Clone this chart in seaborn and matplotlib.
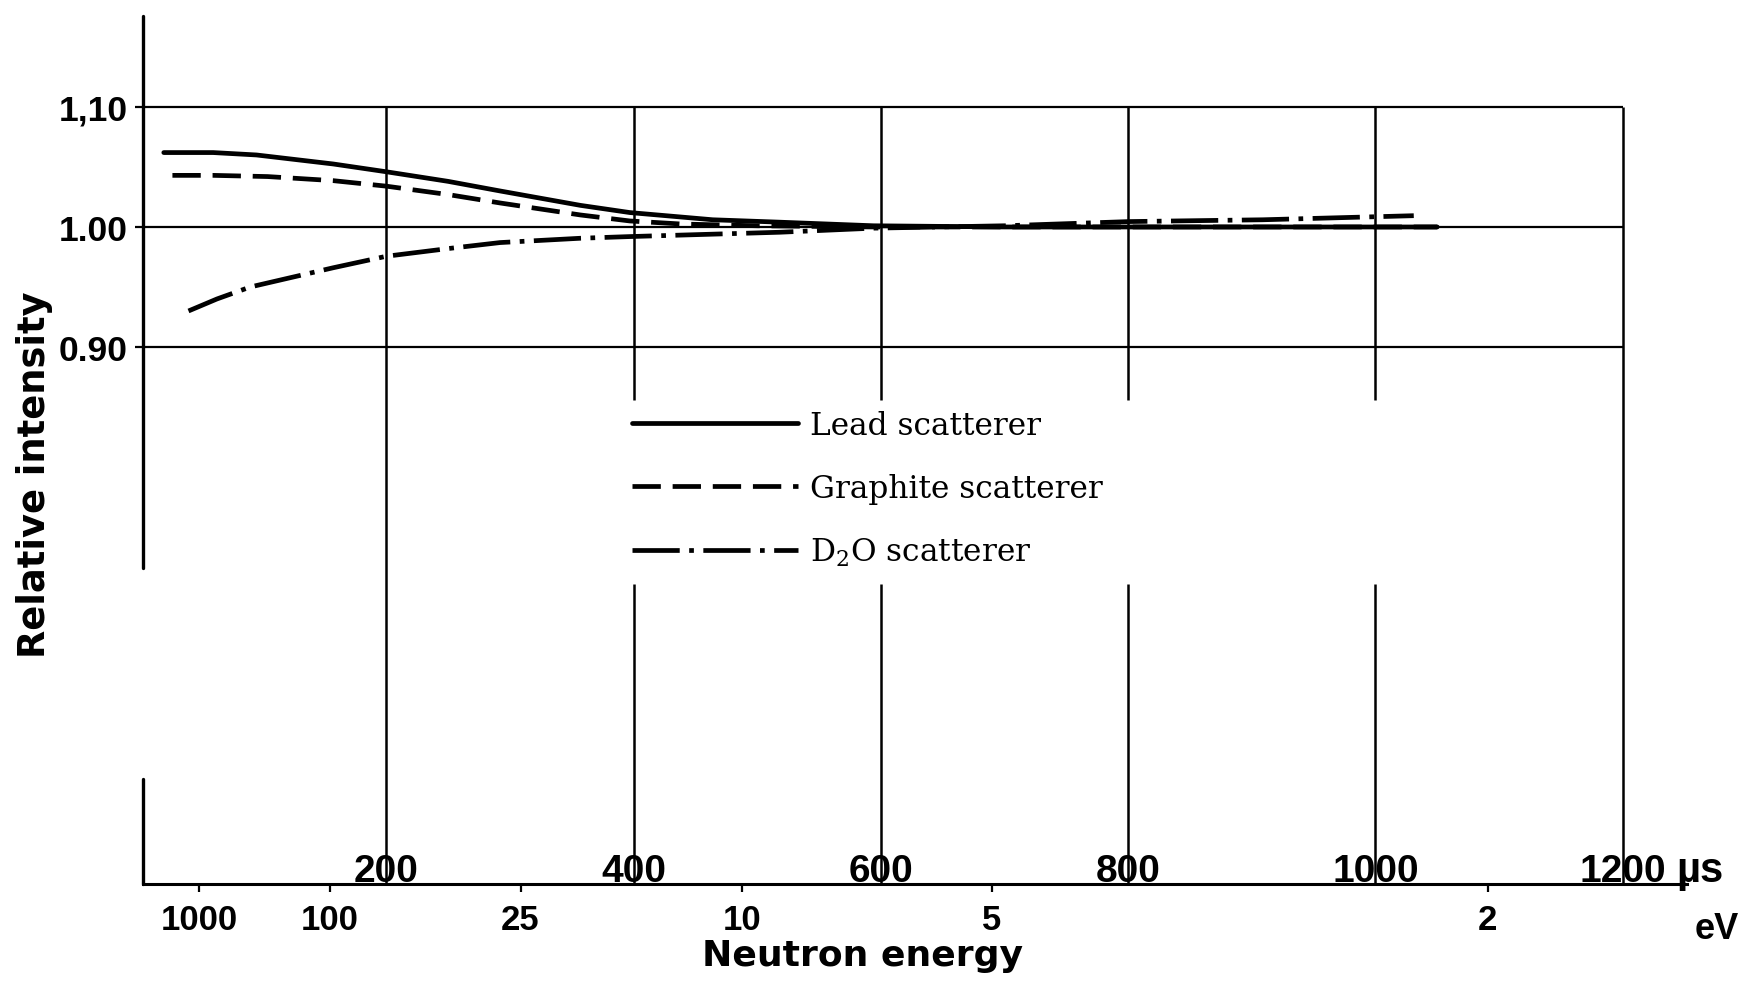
import matplotlib
matplotlib.use("Agg")
import matplotlib.pyplot as plt
import numpy as np
import pandas as pd
import seaborn as sns

# time of flight (us) and relative intensity
lead_tof = [20, 60, 95, 157, 200, 250, 292, 357, 397, 464, 518, 594, 700, 800, 900, 1050]
lead_rel = [1.062, 1.062, 1.060, 1.0525, 1.046, 1.038, 1.030, 1.018, 1.012, 1.006,
            1.004, 1.001, 1.000, 1.000, 1.000, 1.000]

graphite_tof = [27, 60, 104, 157, 200, 250, 292, 357, 397, 438, 500, 594, 700, 800, 900, 1050]
graphite_rel = [1.043, 1.043, 1.042, 1.0386, 1.034, 1.027, 1.020, 1.010, 1.005, 1.0025,
                1.001, 1.000, 1.000, 1.000, 1.000, 1.000]

d2o_tof = [40, 63, 90, 157, 200, 250, 292, 357, 397, 464, 518, 594, 700, 801, 909, 1031]
d2o_rel = [0.930, 0.940, 0.950, 0.966, 0.9756, 0.982, 0.987, 0.9906, 0.992, 0.994,
           0.9956, 0.999, 1.001, 1.0045, 1.006, 1.0094]

scatterers = ["Lead scatterer", "Graphite scatterer", "D$_2$O scatterer"]

tof_ticks = [200, 400, 600, 800, 1000, 1200]     # us, vertical grid
energy_ticks = [1000, 100, 25, 10, 5, 2]         # eV, lower scale
rel_ticks = [0.90, 1.00, 1.10]
rel_ticklabels = ["0.90", "1.00", "1,10"]

# E = K / t^2 for this flight path (fitted on the 10, 5 and 2 eV marks)
K_EV_US2 = 2.38e6

df = pd.concat([
    pd.DataFrame({"tof": lead_tof, "rel": lead_rel, "scatterer": scatterers[0]}),
    pd.DataFrame({"tof": graphite_tof, "rel": graphite_rel, "scatterer": scatterers[1]}),
    pd.DataFrame({"tof": d2o_tof, "rel": d2o_rel, "scatterer": scatterers[2]}),
], ignore_index=True)

sns.set_theme(style="ticks", rc={"axes.edgecolor": "black", "xtick.color": "black",
                                 "ytick.color": "black", "text.color": "black",
                                 "axes.labelcolor": "black"})
plt.rcParams["font.family"] = ["DejaVu Sans"]
plt.rcParams["mathtext.fontset"] = "dejavuserif"

tick_font = "Liberation Sans"

fig = plt.figure(figsize=(17.48, 10.03), dpi=100)
ax = fig.add_axes([143 / 1748, 118 / 1003, 1544 / 1748, 868 / 1003])

x_lo, x_hi = 3.2, 1252
y_lo, y_hi = 0.4525, 1.1758
# where the inner vertical lines are cut for the legend
gap_top, gap_bottom = 0.8558, 0.7025

sns.lineplot(data=df, x="tof", y="rel", style="scatterer", style_order=scatterers,
             dashes={scatterers[0]: "", scatterers[1]: (6, 2.5), scatterers[2]: (10, 2, 1, 2)},
             color="black", linewidth=3.4, estimator=None, legend=False, ax=ax)

# grid drawn by hand like the original
ax.hlines(rel_ticks, x_lo, tof_ticks[-1], color="black", lw=1.6)
ax.vlines([tof_ticks[0], tof_ticks[-1]], y_lo, rel_ticks[-1], color="black", lw=1.8)
ax.vlines(tof_ticks[1:-1], gap_top, rel_ticks[-1], color="black", lw=1.8)
ax.vlines(tof_ticks[1:-1], y_lo, gap_bottom, color="black", lw=1.8)

ax.set_xlim(x_lo, x_hi)
ax.set_ylim(y_lo, y_hi)

# broken left axis
for s in ["left", "top", "right"]:
    ax.spines[s].set_visible(False)
ax.spines["bottom"].set_linewidth(2.2)
ax.axvline(x_lo, ymin=(0.7158 - y_lo) / (y_hi - y_lo), ymax=1, color="black", lw=2.4, clip_on=False)
ax.axvline(x_lo, ymin=0, ymax=(0.54 - y_lo) / (y_hi - y_lo), color="black", lw=2.4, clip_on=False)

# energy scale on the ticks, time scale written just above the axis
ax.set_xticks([np.sqrt(K_EV_US2 / e) for e in energy_ticks], labels=[str(e) for e in energy_ticks])
ax.set_yticks(rel_ticks, labels=rel_ticklabels)
ax.tick_params(axis="x", direction="out", length=6, width=1.6, pad=8)
ax.tick_params(axis="y", direction="out", length=6, width=1.6, pad=5)
for lab in ax.get_xticklabels():
    lab.set_fontfamily(tick_font)
    lab.set_fontweight("bold")
    lab.set_fontsize(25)
for lab in ax.get_yticklabels():
    lab.set_fontfamily(tick_font)
    lab.set_fontweight("bold")
    lab.set_fontsize(25.5)

for t in tof_ticks:
    ax.text(t, 0.004, str(t), transform=ax.get_xaxis_transform(), ha="center", va="baseline",
            family=tick_font, fontweight="bold", fontsize=28)
ax.text(0.9929, 0.004, "µs", transform=ax.transAxes, ha="left", va="baseline",
        family=tick_font, fontweight="bold", fontsize=30, clip_on=False)
ax.text(1.0052, -0.031, "eV", transform=ax.transAxes, ha="left", va="top",
        family=tick_font, fontweight="bold", fontsize=26, clip_on=False)

ax.set_xlabel("Neutron energy", fontsize=26, fontweight="bold")
ax.xaxis.set_label_coords(0.4663, -0.062)
ax.set_ylabel("Relative intensity", fontsize=26.5, fontweight="bold")
ax.yaxis.set_label_coords(-0.058, 0.4724)

ax.legend(ax.lines[:3], scatterers, loc="upper left", bbox_to_anchor=(0.3167, 0.546),
          frameon=False, prop={"family": "DejaVu Serif", "size": 22.5},
          handlelength=5.3, handletextpad=0.4, labelspacing=1.02, borderpad=0, borderaxespad=0)

fig.savefig("out.png", dpi=100, facecolor="white")
